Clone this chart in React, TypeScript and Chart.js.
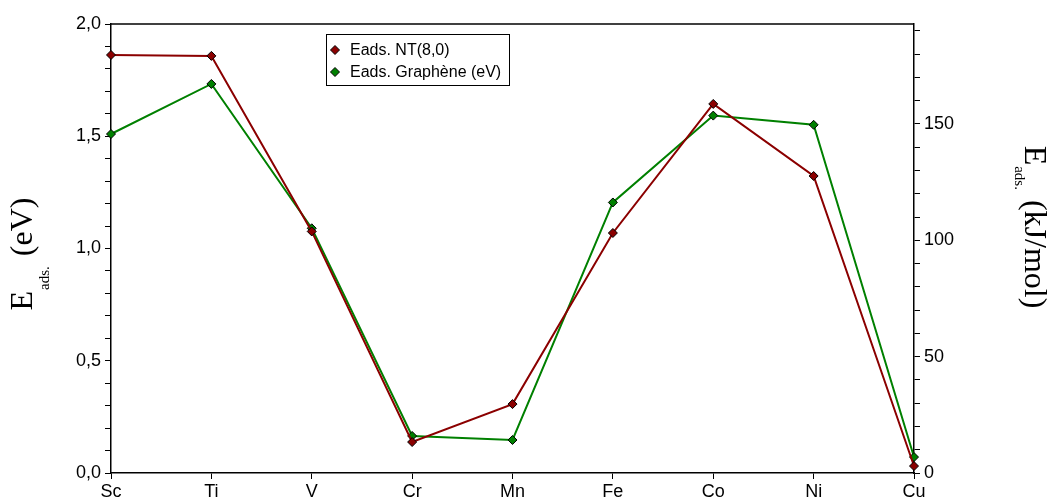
import React, { useEffect, useRef } from "react";
import { Chart, registerables } from "chart.js";

Chart.register(...registerables);

const categories = ["Sc", "Ti", "V", "Cr", "Mn", "Fe", "Co", "Ni", "Cu"];
const ntValues = [1.862, 1.858, 1.076, 0.138, 0.307, 1.069, 1.644, 1.323, 0.031];
const grapheneValues = [1.51, 1.733, 1.09, 0.165, 0.147, 1.205, 1.592, 1.551, 0.071];
const seriesLabels = ["Eads. NT(8,0)", "Eads. Graphène (eV)"];
const seriesColors = ["#8b0000", "#008000"];
const leftTitle = { main: "E", sub: "ads.", unit: "(eV)" };
const rightTitle = { main: "E", sub: "ads.", unit: "(kJ/mol)" };
const EV_TO_KJ = 96.485;

const overlayPlugin = {
  id: "overlay",
  afterDraw(chart: any) {
    const { ctx, chartArea } = chart;
    ctx.save();
    // top frame line
    ctx.strokeStyle = "#000";
    ctx.lineWidth = 1.5;
    ctx.beginPath();
    ctx.moveTo(chartArea.left, chartArea.top);
    ctx.lineTo(chartArea.right, chartArea.top);
    ctx.stroke();

    // legend
    const lx = 326, ly = 34, lw = 183, lh = 51;
    ctx.fillStyle = "#fff";
    ctx.fillRect(lx, ly, lw, lh);
    ctx.lineWidth = 1;
    ctx.strokeStyle = "#000";
    ctx.strokeRect(lx + 0.5, ly + 0.5, lw, lh);
    ctx.font = "16px 'Liberation Sans', Arial, sans-serif";
    ctx.textBaseline = "middle";
    ctx.textAlign = "left";
    chart.data.datasets.forEach((ds: any, i: number) => {
      const cy = ly + 16 + i * 22;
      const cx = lx + 9;
      ctx.beginPath();
      ctx.moveTo(cx, cy - 4.5);
      ctx.lineTo(cx + 4.5, cy);
      ctx.lineTo(cx, cy + 4.5);
      ctx.lineTo(cx - 4.5, cy);
      ctx.closePath();
      ctx.fillStyle = ds.backgroundColor;
      ctx.fill();
      ctx.strokeStyle = "#000";
      ctx.lineWidth = 1;
      ctx.stroke();
      ctx.fillStyle = "#000";
      ctx.fillText(ds.label, lx + 24, cy + 1);
    });

    // axis titles
    const mainFont = "32px 'Liberation Serif', 'Times New Roman', serif";
    const subFont = "15px 'Liberation Serif', 'Times New Roman', serif";
    const drawTitle = (t: any, x: number, yc: number, rot: number, subDrop: number) => {
      ctx.save();
      ctx.translate(x, yc);
      ctx.rotate(rot);
      ctx.textBaseline = "alphabetic";
      ctx.textAlign = "left";
      ctx.font = mainFont;
      const wE = ctx.measureText(t.main).width;
      const wU = ctx.measureText(t.unit).width;
      ctx.font = subFont;
      const wS = ctx.measureText(t.sub).width;
      const gap = 10;
      const total = wE + 1 + wS + gap + wU;
      let px = -total / 2;
      ctx.fillStyle = "#000";
      ctx.font = mainFont;
      ctx.fillText(t.main, px, 0);
      px += wE + 1;
      ctx.font = subFont;
      ctx.fillText(t.sub, px, subDrop);
      px += wS + gap;
      ctx.font = mainFont;
      ctx.fillText(t.unit, px, 0);
      ctx.restore();
    };
    drawTitle(leftTitle, 32, 254, -Math.PI / 2, 17);
    drawTitle(rightTitle, 1025, 227, Math.PI / 2, 10);
    ctx.restore();
  },
};

export default function App() {
  const ref = useRef<HTMLCanvasElement | null>(null);
  useEffect(() => {
    if (!ref.current) return;
    const tickFont = { family: "'Liberation Sans', Arial, sans-serif", size: 18 };
    const chart = new Chart(ref.current, {
      type: "line",
      data: {
        labels: categories,
        datasets: [ntValues, grapheneValues].map((vals, i) => ({
          label: seriesLabels[i],
          data: vals,
          borderColor: seriesColors[i],
          backgroundColor: seriesColors[i],
          borderWidth: 2,
          pointStyle: "rectRot",
          pointRadius: 4.5,
          pointBorderColor: "#000",
          pointBorderWidth: 1,
          pointBackgroundColor: seriesColors[i],
          tension: 0,
          yAxisID: "y",
        })),
      },
      options: {
        animation: false,
        responsive: false,
        maintainAspectRatio: false,
        layout: { padding: { top: 24, left: 0, right: 0, bottom: 0 } },
        plugins: { legend: { display: false }, tooltip: { enabled: false } },
        scales: {
          x: {
            type: "category",
            offset: false,
            grid: { drawOnChartArea: false, drawTicks: true, tickLength: 6, tickColor: "#000", offset: false },
            border: { color: "#000", width: 1.5 },
            ticks: { color: "#000", font: tickFont, padding: 2, autoSkip: false, maxRotation: 0 },
            afterFit: (s: any) => { s.height = 29; },
          },
          y: {
            position: "left",
            min: 0,
            max: 2,
            grid: { drawOnChartArea: false, drawTicks: true, tickLength: 6, tickColor: "#000" },
            border: { color: "#000", width: 1.5 },
            ticks: {
              stepSize: 0.1,
              autoSkip: false,
              color: "#000",
              font: tickFont,
              padding: 4,
              callback: (v: any) => {
                const n = Number(v);
                return Math.abs(n * 2 - Math.round(n * 2)) < 1e-6 ? n.toFixed(1).replace(".", ",") : "";
              },
            },
            afterFit: (s: any) => { s.width = 111; },
          },
          y2: {
            position: "right",
            min: 0,
            max: 2 * EV_TO_KJ,
            grid: { drawOnChartArea: false, drawTicks: true, tickLength: 6, tickColor: "#000" },
            border: { color: "#000", width: 1.5 },
            ticks: {
              stepSize: 10,
              includeBounds: false,
              autoSkip: false,
              color: "#000",
              font: tickFont,
              padding: 4,
              callback: (v: any) => {
                const n = Math.round(Number(v));
                return n % 50 === 0 ? String(n) : "";
              },
            },
            afterFit: (s: any) => { s.width = 137; },
          },
        },
      },
      plugins: [overlayPlugin],
    } as any);
    return () => chart.destroy();
  }, []);
  return (
    <div style={{ position: "absolute", left: 0, top: 0, width: 1051, height: 502, background: "#fff" }}>
      <canvas ref={ref} width={1051} height={502} style={{ width: 1051, height: 502 }} />
    </div>
  );
}
